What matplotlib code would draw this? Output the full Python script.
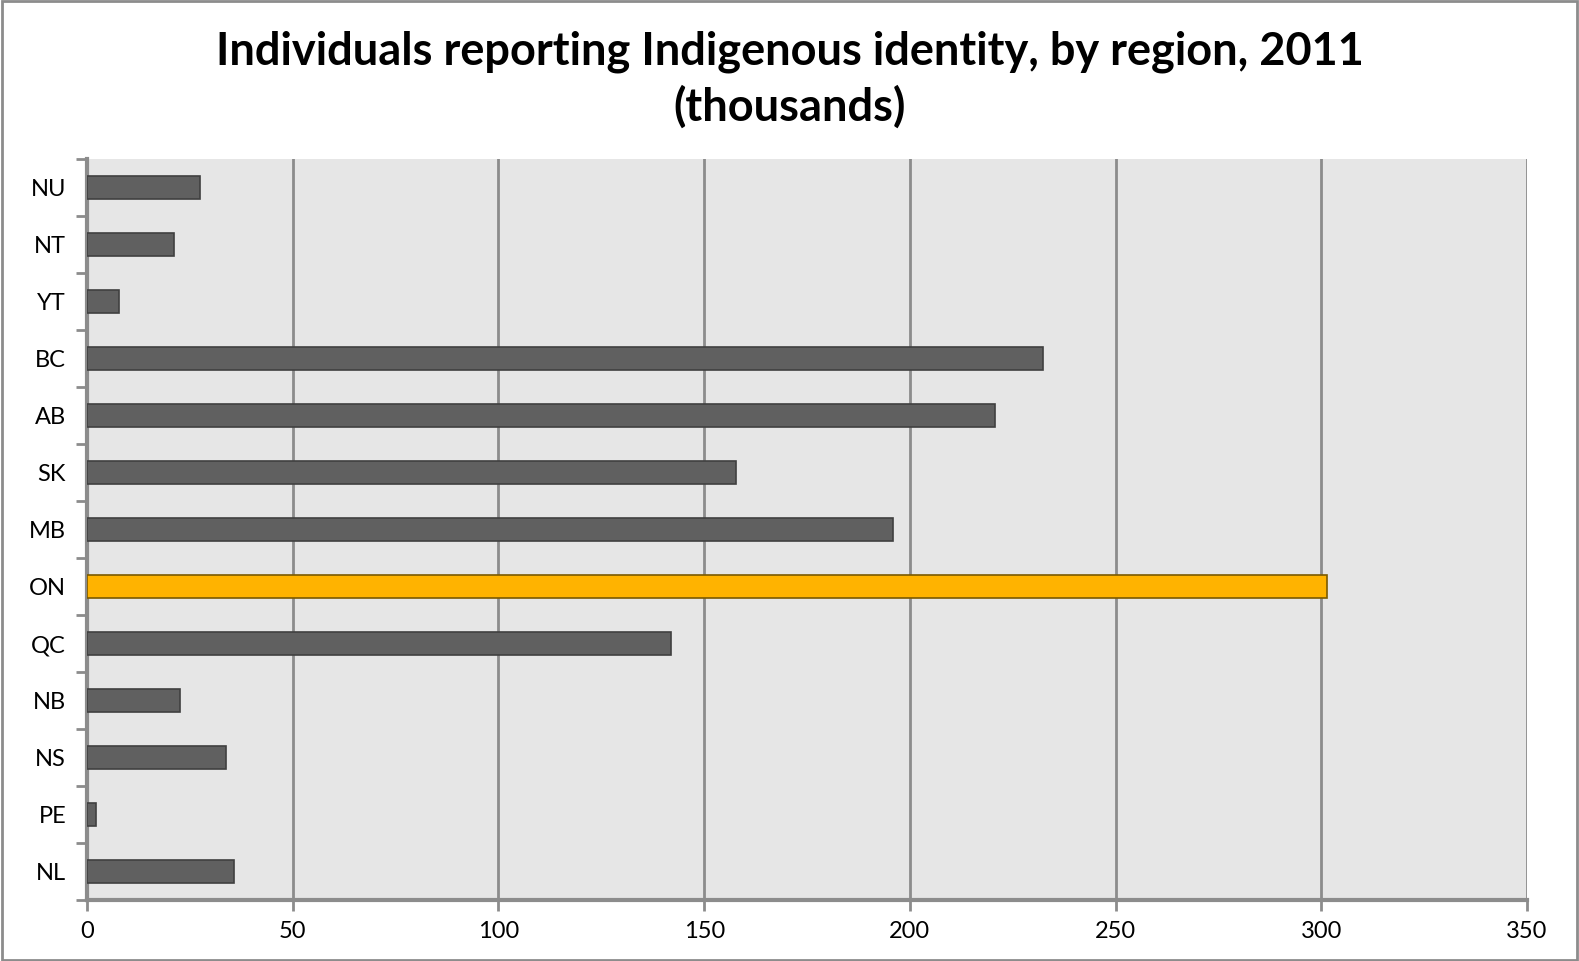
import matplotlib.pyplot as plt
from matplotlib.patches import Rectangle

regions = ['NL', 'PE', 'NS', 'NB', 'QC', 'ON', 'MB', 'SK', 'AB', 'BC', 'YT', 'NT', 'NU']
values = [35.8, 2.2, 33.8, 22.6, 141.9, 301.4, 195.9, 157.7, 220.7, 232.3, 7.7, 21.2, 27.4]
highlight = 'ON'

plt.rcParams['font.family'] = ['Lato', 'DejaVu Sans']

fig = plt.figure(figsize=(15.79, 9.61), dpi=100)
ax = fig.add_axes([0.0551, 0.0635, 0.912, 0.771])

# outer grey frame
fig.patches.append(Rectangle((0.001, 0.001), 0.998, 0.998, transform=fig.transFigure,
                             fill=False, edgecolor='#8c8c8c', linewidth=2))

colors = ['#FFB300' if r == highlight else '#606060' for r in regions]
edges = ['#7a5a00' if r == highlight else '#404040' for r in regions]
ypos = list(range(len(regions)))
ax.barh(ypos, values, height=0.4, color=colors, edgecolor=edges, linewidth=1.2, zorder=3)

ax.set_facecolor('#e6e6e6')
ax.set_xlim(0, 350)
ax.set_ylim(-0.5, len(regions) - 0.5)
ax.set_xticks(range(0, 351, 50))
ax.grid(axis='x', color='#8c8c8c', linewidth=2, zorder=1)

ax.set_yticks(ypos)
ax.set_yticklabels(regions)
ax.set_yticks([y - 0.5 for y in range(len(regions) + 1)], minor=True)
ax.tick_params(axis='y', which='major', length=0, pad=15, labelsize=17)
ax.tick_params(axis='y', which='minor', length=8, width=2, color='#8c8c8c')
ax.tick_params(axis='x', length=8, width=2, color='#8c8c8c', labelsize=17, pad=7)

for s in ['top', 'right']:
    ax.spines[s].set_visible(False)
for s in ['left', 'bottom']:
    ax.spines[s].set_color('#8c8c8c')
    ax.spines[s].set_linewidth(3)

fig.suptitle('Individuals reporting Indigenous identity, by region, 2011\n(thousands)',
             fontsize=32.5, fontweight='bold', y=0.968, linespacing=1.35)

fig.savefig('out.png', dpi=100)
